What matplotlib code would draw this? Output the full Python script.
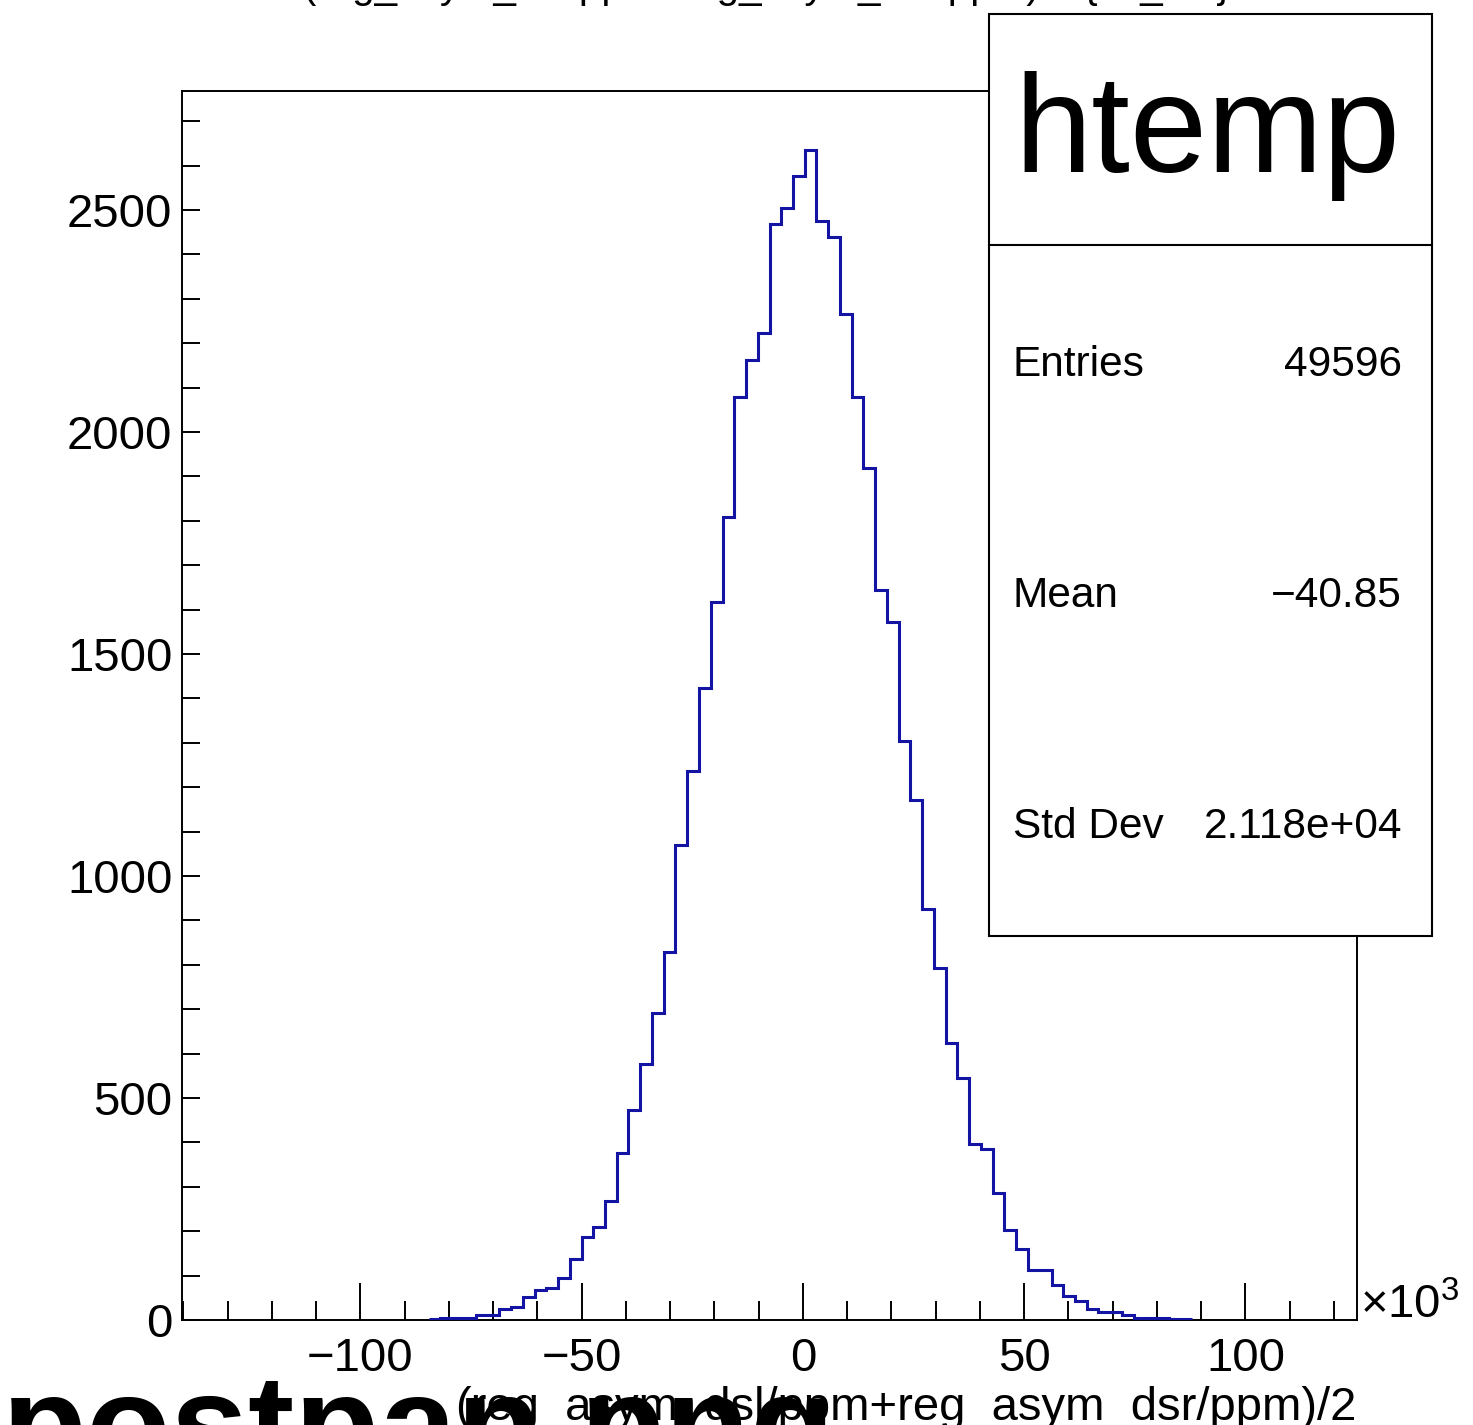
import numpy as np
import matplotlib
matplotlib.use("Agg")
import matplotlib.pyplot as plt
from matplotlib.patches import Rectangle
from matplotlib.lines import Line2D
from matplotlib.ticker import MultipleLocator

plt.rcParams['font.family'] = ['Liberation Sans', 'DejaVu Sans']
plt.rcParams['mathtext.fontset'] = 'custom'
plt.rcParams['mathtext.rm'] = 'Liberation Sans'

# htemp: 100 bins, x in units of 10^3 ppm
x_min = -140.3
x_max = 125.2
n_bins = 100
first_bin = 21
counts = [3, 4, 5, 5, 11, 11, 24, 30, 52, 68,
          71, 95, 137, 186, 210, 269, 377, 474, 577, 691,
          829, 1069, 1236, 1423, 1616, 1808, 2078, 2162, 2222, 2468,
          2504, 2577, 2635, 2475, 2439, 2265, 2078, 1920, 1644, 1573,
          1304, 1171, 925, 793, 624, 546, 396, 385, 287, 203,
          161, 113, 113, 79, 54, 43, 24, 19, 19, 11,
          5, 4, 4, 3, 3]

title = "(reg_asym_dsl/ppm+reg_asym_dsr/ppm)/2 {ok_cut}"
xlabel = "(reg_asym_dsl/ppm+reg_asym_dsr/ppm)/2"
hist_name = "htemp"
stat_names = ["Entries", "Mean", "Std Dev"]
stat_values = ["49596", "\u221240.85", "2.118e+04"]
file_text = "postpan.png"

W, H = 1473, 1425
def fx(x):
    return x / W
def fy(y):
    return 1 - y / H

fig = plt.figure(figsize=(W / 100, H / 100), dpi=100)
ax = fig.add_axes([fx(182), fy(1320), (1357 - 182) / W, (1320 - 91) / H])

edges = np.linspace(x_min, x_max, n_bins + 1)
sel = edges[first_bin:first_bin + len(counts) + 1]
ax.stairs(counts, sel, baseline=None, color="#1414a4", lw=2.2, zorder=3)

ax.set_xlim(x_min, x_max)
ax.set_ylim(0, 2768)
ax.xaxis.set_major_locator(MultipleLocator(50))
ax.xaxis.set_minor_locator(MultipleLocator(10))
ax.yaxis.set_major_locator(MultipleLocator(500))
ax.yaxis.set_minor_locator(MultipleLocator(100))
ax.tick_params(axis='both', which='both', direction='in', top=False, right=False,
               labelsize=34, width=1.4, color='black')
ax.tick_params(axis='x', which='major', length=27, pad=12)
ax.tick_params(axis='x', which='minor', length=13.5)
ax.tick_params(axis='y', which='major', length=13, pad=7)
ax.tick_params(axis='y', which='minor', length=13)
for s in ax.spines.values():
    s.set_linewidth(1.4)

# x10^3 multiplier
fig.text(fx(1360), fy(1318), "\u00d710$^{3}$", fontsize=34, ha='left', va='baseline')
# axis label and title
fig.text(fx(1357), fy(1420), xlabel, fontsize=34, ha='right', va='baseline')
fig.text(fx(766), fy(-2), title, fontsize=29, ha='center', va='baseline')
# file name text cut by the bottom edge
fig.text(fx(835), fy(1472), file_text, fontsize=100, fontweight='bold',
         ha='right', va='baseline', zorder=0)

# stats box
fig.add_artist(Rectangle((fx(989), fy(936)), (1432 - 989) / W, (936 - 14) / H,
                         transform=fig.transFigure, facecolor='white',
                         edgecolor='black', lw=1.5, zorder=5))
fig.add_artist(Line2D([fx(989), fx(1432)], [fy(245), fy(245)],
                      transform=fig.transFigure, color='black', lw=1.5, zorder=6))
fig.text(fx(1207), fy(172), hist_name, fontsize=100, ha='center', va='baseline', zorder=7)
for i, (n, v) in enumerate(zip(stat_names, stat_values)):
    yc = 365 + i * 231
    fig.text(fx(1013), fy(yc), n, fontsize=30.5, ha='left', va='center', zorder=7)
    fig.text(fx(1402), fy(yc), v, fontsize=30.5, ha='right', va='center', zorder=7)

fig.savefig("out.png", dpi=100)
